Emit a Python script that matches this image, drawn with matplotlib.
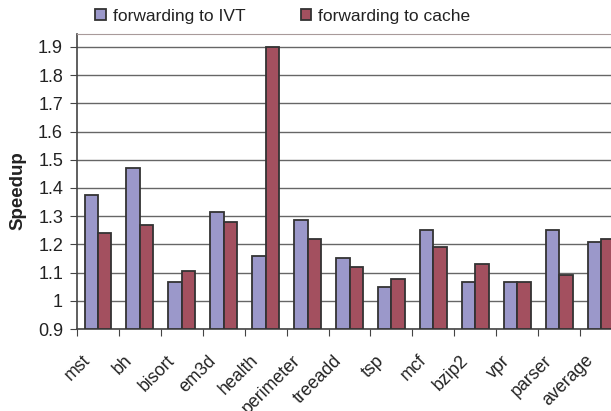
import numpy as np
import matplotlib.pyplot as plt
from matplotlib.transforms import offset_copy

plt.rcParams['font.family'] = ['Liberation Sans', 'DejaVu Sans']

benchmarks = ['mst', 'bh', 'bisort', 'em3d', 'health', 'perimeter', 'treeadd',
              'tsp', 'mcf', 'bzip2', 'vpr', 'parser', 'average']
ivt = [1.375, 1.47, 1.065, 1.315, 1.16, 1.285, 1.15, 1.048, 1.25, 1.065, 1.065, 1.25, 1.207]
cache = [1.24, 1.268, 1.107, 1.28, 1.9, 1.22, 1.12, 1.078, 1.19, 1.13, 1.065, 1.09, 1.22]
yticks = [0.9, 1, 1.1, 1.2, 1.3, 1.4, 1.5, 1.6, 1.7, 1.8, 1.9]

fig = plt.figure(figsize=(6.11, 4.11), dpi=100)
ax = fig.add_axes([77/611, 1-329/411, 545/611, (329-34)/411])

x = np.arange(len(benchmarks))
w = 0.32
ax.bar(x - w/2, np.array(ivt) - 0.9, w, bottom=0.9, color='#9b98ca',
       edgecolor='#333333', linewidth=1.3, label='forwarding to IVT', zorder=3)
ax.bar(x + w/2, np.array(cache) - 0.9, w, bottom=0.9, color='#a3505f',
       edgecolor='#333333', linewidth=1.3, label='forwarding to cache', zorder=3)

ax.set_xlim(-0.5, len(benchmarks) - 0.5)
ax.set_ylim(0.9, 1.946)
ax.set_yticks(yticks)
ax.set_yticklabels(['0.9', '1', '1.1', '1.2', '1.3', '1.4', '1.5', '1.6', '1.7', '1.8', '1.9'])
ax.grid(axis='y', color='#666666', linewidth=1.0, zorder=0)

# ticks between categories, labels written at the centers
ax.set_xticks(np.arange(len(benchmarks) + 1) - 0.5)
ax.set_xticklabels([])
lbl_tr = offset_copy(ax.get_xaxis_transform(), fig=fig, x=-16, y=-23, units='dots')
for i, name in enumerate(benchmarks):
    ax.text(i, 0, name, transform=lbl_tr, rotation=45, ha='right', va='top',
            rotation_mode='anchor', fontsize=12.8, color='#222222')
ax.tick_params(axis='x', which='major', length=5, color='#444444', direction='out')
ax.tick_params(axis='y', length=5, color='#444444', labelsize=13, labelcolor='#222222', pad=5)

ax.spines['right'].set_visible(False)
ax.spines['top'].set_color('#a89a9a')
ax.spines['left'].set_color('#444444')
ax.spines['bottom'].set_color('#444444')
ax.spines['left'].set_linewidth(1.2)
ax.spines['bottom'].set_linewidth(1.2)

fig.text(18/611, 1-191/411, 'Speedup', rotation=90, ha='center', va='center',
         fontsize=13.5, fontweight='bold', color='#222222')

fig.legend(loc='center', bbox_to_anchor=(283/611, 1-16/411), ncol=2, frameon=False,
           fontsize=12.5, handlelength=0.6, handleheight=0.6, columnspacing=3.2,
           handletextpad=0.4, labelcolor='#222222')

fig.savefig('out.png', dpi=100)
